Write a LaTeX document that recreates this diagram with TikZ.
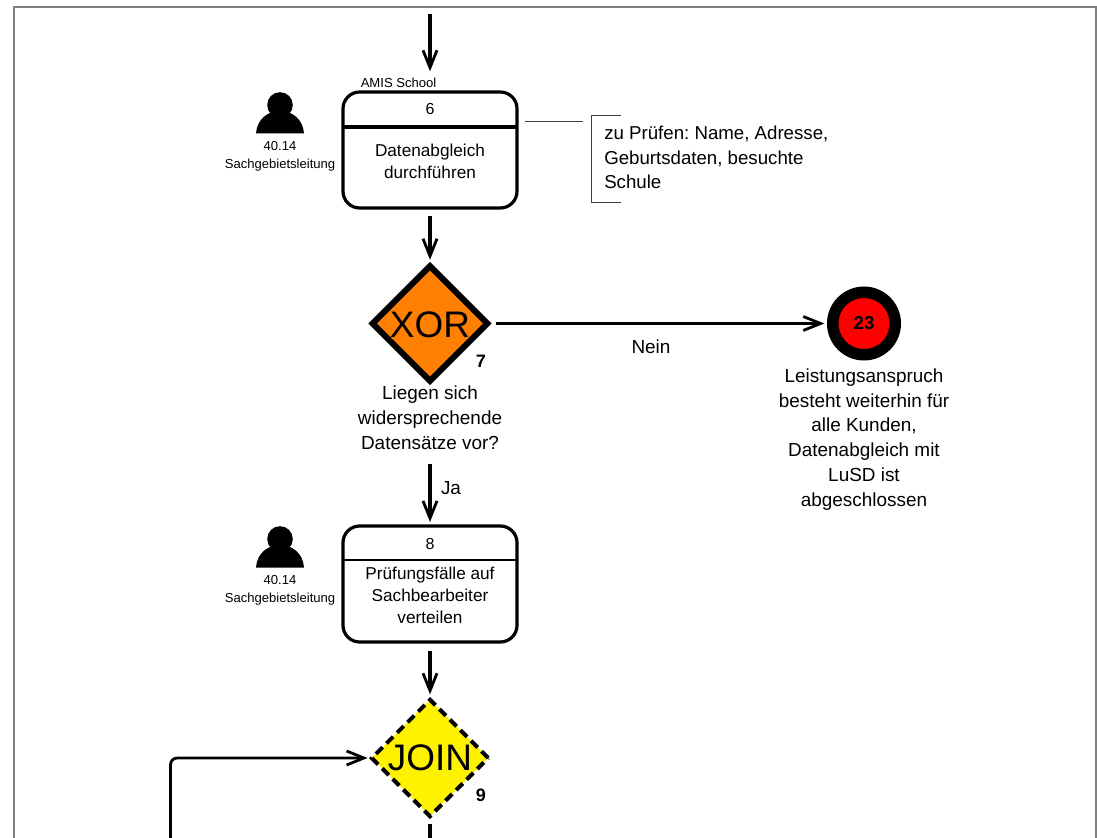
\documentclass[tikz,border=0pt]{standalone}
\usepackage{fontspec}
\setmainfont{Liberation Sans}
\frenchspacing
\usetikzlibrary{arrows.meta,shapes.geometric}
\tikzset{
  x=0.75pt,y=-0.75pt,
  barb/.style={-{Straight Barb[length=13pt,width=10.5pt,line width=2.1pt]}},
  flow/.style={line width=2.7pt,barb},
  box/.style={draw,line width=2.4pt,rounded corners=12.5pt,fill=white,minimum width=130.5pt,minimum height=87pt,outer sep=0pt,inner sep=0pt},
  gate/.style={diamond,draw,aspect=1,inner sep=0pt},
  main/.style={font=\fontsize{12.9}{16.5}\selectfont,align=center,inner sep=0pt},
  large/.style={font=\fontsize{14.2}{18.6}\selectfont,align=center,inner sep=0pt},
  small/.style={font=\fontsize{9.8}{13.5}\selectfont,align=center,inner sep=0pt},
  gatefont/.style={font=\fontsize{27.7}{30}\selectfont},
  bold/.style={font=\fontsize{13.5}{16}\selectfont\bfseries,inner sep=0pt},
  thin line/.style={line width=0.7pt,color=black!75}
}
\begin{document}
\begin{tikzpicture}
\useasboundingbox (0,0) rectangle (1097,838);
% frame
\draw[line width=1.5pt,color=black!50] (14,838) -- (14,7) -- (1096,7) -- (1096,838);
% box 6
\node[box] (b6) at (430,150) {};
\draw[line width=2.9pt] (b6.west |- 0,127) -- (b6.east |- 0,127);
\node[main] (n6) at (430,109) {\fontsize{12}{14}\selectfont 6};
\node[main] (txt6) at (430,161) {Datenabgleich\\durchführen};
\node[small,anchor=west] (amis) at (360.5,83) {AMIS School};
% entry arrow
\coordinate (top) at (430,14);
\draw[flow,shorten >=15.5pt] (top) -- (b6.north);
% person 1
\fill (280,105) circle (9.6pt);
\fill (256,133.5) .. controls (257,119) and (268,111) .. (280,111) .. controls (292,111) and (303,119) .. (304,133.5) -- cycle;
\node[small] (p1) at (280,156) {40.14\\Sachgebietsleitung};
% note
\coordinate (nl) at (525,121);
\coordinate (nr) at (583,121);
\draw[thin line] (nl) -- (nr);
\draw[thin line] (621,115) -- (591.7,115) -- (591.7,202) -- (621,202);
\node[large,font=\fontsize{14}{18.4}\selectfont,align=left,anchor=west] (note) at (604,157.5) {zu Prüfen: Name, Adresse,\\Geburtsdaten, besuchte\\Schule};
% XOR
\node[gate,fill={rgb,255:red,255;green,128;blue,0},line width=4.6pt,minimum width=88pt,minimum height=88pt] (xor) at (430,323.5) {};
\node[gatefont,inner sep=0pt] (xort) at (430,325) {XOR};
\draw[flow,shorten <=6pt,shorten >=1.5pt] (b6.south) -- (xor.north);
\node[bold] (n7) at (481,361) {7};
\node[large] (qxor) at (430,418) {Liegen sich\\widersprechende\\Datensätze vor?};
% end
\node[circle,draw,line width=8.6pt,fill=red,minimum size=46.9pt,inner sep=0pt,font=\fontsize{14}{16}\selectfont\bfseries] (end) at (864,323.5) {23};
\draw[flow,shorten <=3pt,shorten >=2pt] (xor.east) -- (end.west);
\node[large] (nein) at (651,347) {Nein};
\node[large] (etxt) at (864,439.5) {Leistungsanspruch\\besteht weiterhin für\\alle Kunden,\\Datenabgleich mit\\LuSD ist\\abgeschlossen};
% box 8
\node[box] (b8) at (430,584) {};
\draw[line width=2pt] (b8.west |- 0,560) -- (b8.east |- 0,560);
\node[main] (n8) at (430,543.5) {\fontsize{12}{14}\selectfont 8};
\node[main] (txt8) at (430,595) {Prüfungsfälle auf\\Sachbearbeiter\\verteilen};
\draw[flow,shorten <=59pt,shorten >=3pt] (xor.south) -- (b8.north);
\node[large] (ja) at (451,488) {Ja};
% person 2
\fill (280,539) circle (9.6pt);
\fill (256,567.5) .. controls (257,553) and (268,545) .. (280,545) .. controls (292,545) and (303,553) .. (304,567.5) -- cycle;
\node[small] (p2) at (280,590.5) {40.14\\Sachgebietsleitung};
% JOIN
\node[gate,fill=yellow,line width=3pt,dash pattern=on 7pt off 4.2pt,minimum width=88.5pt,minimum height=88.5pt] (join) at (430,758) {};
\node[gatefont,inner sep=0pt] (joint) at (430,758) {JOIN};
\draw[flow,shorten <=6.5pt,shorten >=2pt] (b8.south) -- (join.north);
\node[bold] (n9) at (481,795) {9};
\coordinate (bl) at (170.5,838);
\draw[line width=2.1pt,rounded corners=5pt,barb,shorten >=1pt] (bl) |- (join.west);
\coordinate (jb) at (430,838);
\draw[line width=2.7pt,shorten <=4pt] (join.south) -- (jb);
\end{tikzpicture}
\end{document}
